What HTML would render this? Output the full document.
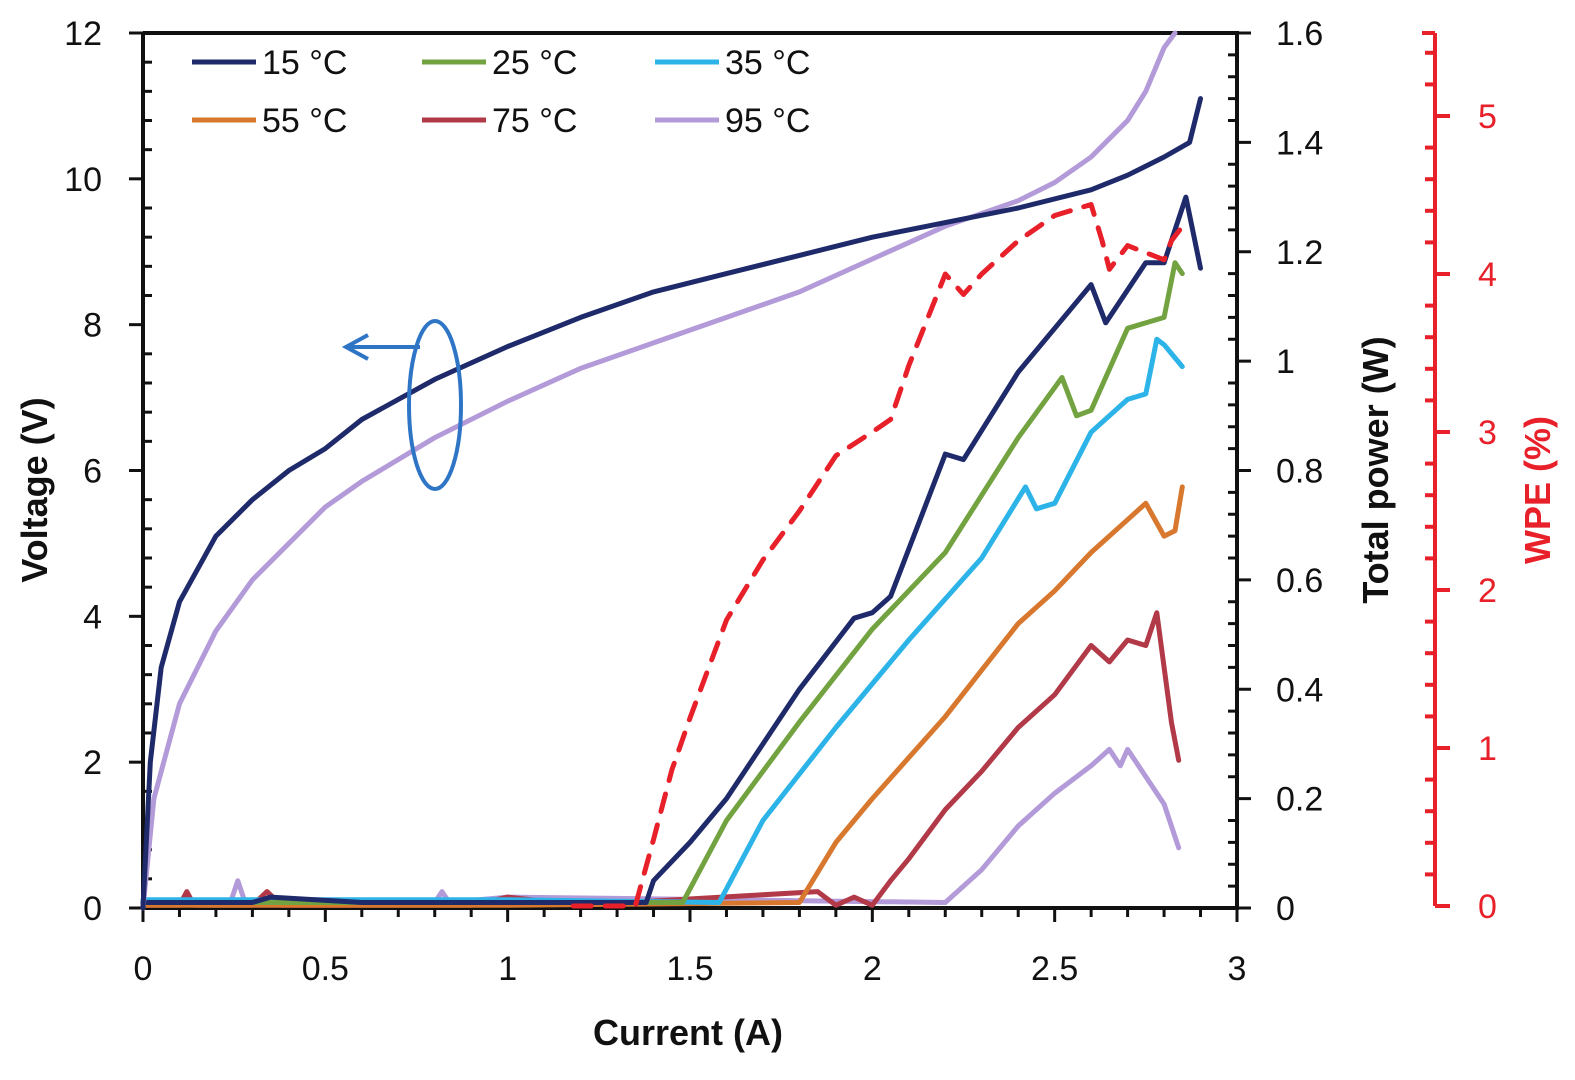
<!DOCTYPE html>
<html><head><meta charset="utf-8"><style>
body{margin:0;background:#fff}
svg text{font-family:"Liberation Sans",sans-serif}
</style></head><body>
<svg id="c" width="1575" height="1075" viewBox="0 0 1575 1075"></svg>
<script>
// Data
const v15x=[0,0.02,0.05,0.1,0.2,0.3,0.4,0.5,0.6,0.8,1.0,1.2,1.4,1.6,1.8,2.0,2.2,2.4,2.6,2.7,2.8,2.87,2.9];
const v15y=[0,2,3.3,4.2,5.1,5.6,6.0,6.3,6.7,7.25,7.7,8.1,8.45,8.7,8.95,9.2,9.4,9.6,9.85,10.05,10.3,10.5,11.1];
const v95x=[0,0.03,0.1,0.2,0.3,0.4,0.5,0.6,0.8,1.0,1.2,1.4,1.6,1.8,2.0,2.2,2.4,2.5,2.6,2.7,2.75,2.8,2.83];
const v95y=[0,1.5,2.8,3.8,4.5,5.0,5.5,5.85,6.45,6.95,7.4,7.75,8.1,8.45,8.9,9.35,9.7,9.95,10.3,10.8,11.2,11.8,12.0];
const p15x=[0,0.3,0.35,0.6,1.0,1.38,1.4,1.5,1.6,1.8,1.95,2.0,2.05,2.2,2.25,2.4,2.5,2.6,2.64,2.75,2.8,2.86,2.9];
const p15y=[0.01,0.01,0.02,0.01,0.01,0.01,0.05,0.12,0.2,0.4,0.53,0.54,0.57,0.83,0.82,0.98,1.06,1.14,1.07,1.18,1.18,1.30,1.17];
const p25x=[0,1.0,1.48,1.6,1.8,2.0,2.2,2.4,2.52,2.56,2.6,2.7,2.8,2.83,2.85];
const p25y=[0.01,0.01,0.01,0.16,0.34,0.51,0.65,0.86,0.97,0.90,0.91,1.06,1.08,1.18,1.16];
const p35x=[0,1.0,1.58,1.7,1.9,2.1,2.3,2.42,2.45,2.5,2.6,2.7,2.75,2.78,2.8,2.85];
const p35y=[0.015,0.015,0.01,0.16,0.33,0.49,0.64,0.77,0.73,0.74,0.87,0.93,0.94,1.04,1.03,0.99];
const p55x=[0,1.0,1.8,1.9,2.0,2.2,2.4,2.5,2.6,2.7,2.75,2.8,2.83,2.85];
const p55y=[0.005,0.005,0.01,0.12,0.2,0.35,0.52,0.58,0.65,0.71,0.74,0.68,0.69,0.77];
const p75x=[0,0.1,0.12,0.14,0.3,0.34,0.38,0.9,1.0,1.2,1.85,1.9,1.95,2.0,2.05,2.1,2.2,2.3,2.4,2.5,2.6,2.65,2.7,2.75,2.78,2.82,2.84];
const p75y=[0.005,0.005,0.03,0.005,0.005,0.03,0.005,0.005,0.02,0.005,0.03,0.005,0.02,0.005,0.05,0.09,0.18,0.25,0.33,0.39,0.48,0.45,0.49,0.48,0.54,0.34,0.27];
const p95x=[0,0.24,0.26,0.28,0.5,0.8,0.82,0.84,1.0,2.2,2.3,2.4,2.5,2.6,2.65,2.68,2.7,2.8,2.84];
const p95y=[0.01,0.01,0.05,0.01,0.01,0.01,0.03,0.01,0.02,0.01,0.07,0.15,0.21,0.26,0.29,0.26,0.29,0.19,0.11];
const wpex=[1.18,1.3,1.35,1.4,1.45,1.5,1.6,1.7,1.8,1.9,2.0,2.05,2.1,2.2,2.25,2.3,2.4,2.5,2.6,2.63,2.65,2.7,2.8,2.82,2.85];
const wpey=[0,0,0,0.42,0.86,1.19,1.81,2.19,2.5,2.85,3.0,3.08,3.42,4.0,3.87,4.0,4.21,4.37,4.44,4.21,4.03,4.18,4.09,4.21,4.3];
const xTicks=["0","0.5","1","1.5","2","2.5","3"];
const vTicks=["0","2","4","6","8","10","12"];
const pTicks=["0","0.2","0.4","0.6","0.8","1","1.2","1.4","1.6"];
const wTicks=["0","1","2","3","4","5"];

const L=143,R=1237,T=33,B=908,WX=1435;
const X=v=>L+v/3*(R-L), YV=v=>B-v/12*(B-T), YP=v=>B-v/1.6*(B-T), YW=v=>906-v*158;
const svg=document.getElementById('c'),NS='http://www.w3.org/2000/svg';
function el(t,a,txt){const e=document.createElementNS(NS,t);for(const k in a)e.setAttribute(k,a[k]);if(txt!=null)e.textContent=txt;svg.appendChild(e);return e;}
function line(xs,ys,fy,col,name,dash){const d=xs.map((x,i)=>(i?'L':'M')+X(x).toFixed(1)+' '+fy(ys[i]).toFixed(1)).join('');
 const p=el('path',{d:d,fill:'none',stroke:col,'stroke-width':5,'stroke-linejoin':'round','stroke-linecap':'round'});
 if(dash)p.setAttribute('stroke-dasharray',dash);
 
 }
const K='#111';
// axes
el('path',{d:`M${L} ${T}V${B}H${R}V${T}H${L}`,fill:'none',stroke:K,'stroke-width':4});
for(let i=0;i<=30;i++){const x=X(i/10),maj=i%5==0;el('line',{x1:x,x2:x,y1:B,y2:B+(maj?14:9),stroke:K,'stroke-width':3});}
for(let i=0;i<=30;i++){const y=YV(i*0.4),maj=i%5==0;el('line',{x1:L-(maj?14:0),x2:L+(maj?0:9),y1:y,y2:y,stroke:K,'stroke-width':3});}
for(let i=0;i<=40;i++){const y=YP(i*0.04),maj=i%5==0;el('line',{x1:R-(maj?0:9),x2:R+(maj?14:0),y1:y,y2:y,stroke:K,'stroke-width':3});}
xTicks.forEach(t=>{const e=el('text',{x:X(+t),y:980,'font-size':34,'text-anchor':'middle',fill:K},t);});
vTicks.forEach(t=>{const e=el('text',{x:102,y:YV(+t)+12,'font-size':34,'text-anchor':'end',fill:K},t);});
pTicks.forEach(t=>{const e=el('text',{x:1276,y:YP(+t)+12,'font-size':34,fill:K},t);});
// WPE axis
const RC='#e8202a';
el('line',{x1:WX,x2:WX,y1:T,y2:906,stroke:RC,'stroke-width':4});
el('line',{x1:WX-13,x2:WX,y1:T,y2:T,stroke:RC,'stroke-width':4});
for(let i=0;i<=27;i++){const y=YW(i*0.2),maj=i%5==0;el('line',{x1:WX-(maj?0:10),x2:WX+(maj?15:0),y1:y,y2:y,stroke:RC,'stroke-width':4});}
wTicks.forEach(t=>{const e=el('text',{x:1478,y:YW(+t)+12,'font-size':34,fill:RC},t);});
// titles
el('text',{x:688,y:1045,'font-size':36,'font-weight':'bold','text-anchor':'middle',fill:K},'Current (A)');
el('text',{x:0,y:0,'font-size':36,'font-weight':'bold','text-anchor':'middle',fill:K,transform:'translate(47,490) rotate(-90)'},'Voltage (V)');
el('text',{x:0,y:0,'font-size':36,'font-weight':'bold','text-anchor':'middle',fill:K,transform:'translate(1388,470) rotate(-90)'},'Total power (W)');
el('text',{x:0,y:0,'font-size':36,'font-weight':'bold','text-anchor':'middle',fill:RC,transform:'translate(1550,490) rotate(-90)'},'WPE (%)');
const C={c15:'#1f2a6b',c25:'#72a340',c35:'#2cb3e8',c55:'#d8782e',c75:'#b23a48',c95:'#b39ad8'};
line(p95x,p95y,YP,C.c95,'power-95c');
line(p75x,p75y,YP,C.c75,'power-75c');
line(p55x,p55y,YP,C.c55,'power-55c');
line(p35x,p35y,YP,C.c35,'power-35c');
line(p25x,p25y,YP,C.c25,'power-25c');
line(p15x,p15y,YP,C.c15,'power-15c');
line(v95x,v95y,YV,C.c95,'voltage-95c');
line(v15x,v15y,YV,C.c15,'voltage-15c');
line(wpex,wpey,YW,RC,'wpe-line','18 14');
// annotation
el('ellipse',{cx:435,cy:405,rx:26,ry:84,fill:'none',stroke:'#2e75c6','stroke-width':4});
el('path',{d:'M420 347H348M368 335L346 347L368 359',fill:'none',stroke:'#2e75c6','stroke-width':4});
// legend
const leg=[['15 °C',C.c15,192,62],['25 °C',C.c25,422,62],['35 °C',C.c35,655,62],['55 °C',C.c55,192,120],['75 °C',C.c75,422,120],['95 °C',C.c95,655,120]];
leg.forEach(l=>{el('line',{x1:l[2],x2:l[2]+64,y1:l[3],y2:l[3],stroke:l[1],'stroke-width':5});
 const t=el('text',{x:l[2]+70,y:l[3]+12,'font-size':34,fill:K},l[0]);});
</script>
</body></html>
